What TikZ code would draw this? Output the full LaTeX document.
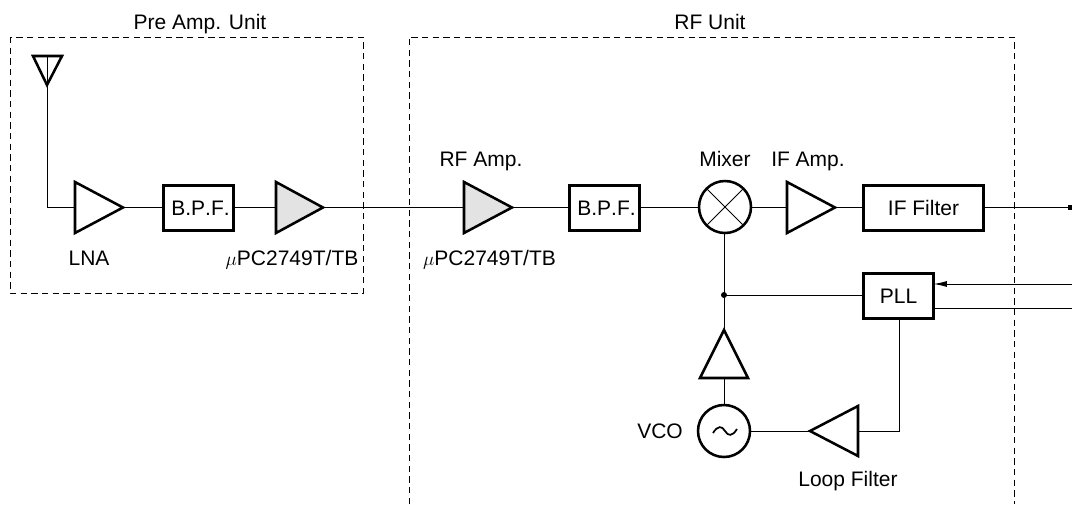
\documentclass[tikz,border=0pt]{standalone}
\usepackage{fontspec}
\setmainfont[Kerning=Off]{Liberation Sans}
\usetikzlibrary{arrows.meta,calc}
\definecolor{ampgray}{HTML}{E3E3E3}
\tikzset{
  x=0.75pt,y=-0.75pt,
  lbl/.style={inner sep=0pt,anchor=base,font=\fontsize{15.75pt}{18pt}\selectfont},
  blockbox/.style={draw,line width=1.9pt,fill=white,inner sep=0pt,outer sep=0pt,minimum height=33.75pt,font=\fontsize{15.75pt}{18pt}\selectfont},
  tri/.style={draw,line width=1.9pt,line join=miter,fill=white},
  grayfill/.style={fill=ampgray},
  wire/.style={line width=0.75pt},
  unit/.style={line width=0.7pt,dash pattern=on 4.8pt off 3.2pt},
  circ/.style={circle,draw,line width=1.9pt,fill=white,minimum size=39pt,inner sep=0pt,outer sep=0pt}
}
\newcommand{\uPC}{$\mu$PC2749T/TB}
\begin{document}
\begin{tikzpicture}
\useasboundingbox (0,0) rectangle (1072,504);
% unit outlines
\draw[unit] (10,37) rectangle (363,293);
\draw[unit] (409,504) -- (409,37) -- (1014,37) -- (1014,504);
% coordinates
\coordinate (ant) at (47,56);
\coordinate (corner) at (47,207);
\coordinate (lnaIn) at (75,207);
\coordinate (lnaOut) at (123,207.5);
\coordinate (amp1In) at (276,207);
\coordinate (amp1Out) at (323,207.5);
\coordinate (amp2In) at (464,207);
\coordinate (amp2Out) at (512,207.5);
\coordinate (ifIn) at (787,207);
\coordinate (ifOut) at (835,207.5);
\coordinate (bufTip) at (724,330);
\coordinate (bufBase) at (724,378);
\coordinate (lfTip) at (810,431);
\coordinate (lfBase) at (858,431);
\coordinate (junction) at (724,295);
\coordinate (ifEnd) at (1072,207);
\coordinate (pllInEnd) at (1072,284);
\coordinate (pllOutEnd) at (1072,308);
% blocks
\node[blockbox,minimum width=52.5pt] (bpf1) at (198.5,208) {\hspace{3pt}B.P.F.};
\node[blockbox,minimum width=52.5pt] (bpf2) at (604.5,208) {\hspace{3pt}B.P.F.};
\node[blockbox,minimum width=90pt] (iff) at (923.5,208) {IF Filter};
\node[blockbox,minimum width=52.5pt] (pll) at (898.5,296) {PLL};
\node[circ] (mix) at (725,207) {};
\node[circ] (vco) at (724,431) {};
% wires
\draw[wire] (47,70) -- (corner) -- (lnaIn);
\draw[wire] (lnaOut |- corner) -- (bpf1.west |- corner);
\draw[wire] (bpf1.east |- corner) -- (amp1In);
\draw[wire] (amp1Out |- corner) -- (amp2In);
\draw[wire] (amp2Out |- corner) -- (bpf2.west |- corner);
\draw[wire] (bpf2.east |- corner) -- (mix.west |- corner);
\draw[wire] (mix.east |- corner) -- (ifIn);
\draw[wire] (ifOut |- corner) -- (iff.west |- corner);
\draw[wire] (iff.east |- ifEnd) -- (ifEnd);
\fill (1068,204.5) rectangle (1072,209.5);
\draw[wire] (mix.south -| junction) -- (bufTip);
\draw[wire] (junction) -- (junction -| pll.west);
\fill (junction) circle (3);
\draw[wire] (bufBase) -- (vco.north);
\draw[wire,-{Latex[length=10pt,width=4.5pt]}] (pllInEnd) -- (pllInEnd -| pll.east);
\draw[wire] (pll.east |- pllOutEnd) -- (pllOutEnd);
\draw[wire] (vco.east) -- (lfTip);
\draw[wire] (lfBase) -- (899,431) -- (899,318);
% triangles
\draw[tri] (33,56) -- (62,56) -- (47,85) -- cycle;
\draw[wire] (47,56) -- (47,85);
\draw[tri] (75,182) -- (75,233) -- (lnaOut) -- cycle;
\draw[tri,grayfill] (276,182) -- (276,233) -- (amp1Out) -- cycle;
\draw[tri,grayfill] (464,182) -- (464,233) -- (amp2Out) -- cycle;
\draw[tri] (787,182) -- (787,233) -- (ifOut) -- cycle;
\draw[tri] (bufTip) -- (748,378) -- (700,378) -- cycle;
\draw[tri] (lfTip) -- (858,406) -- (858,456) -- cycle;
% mixer cross
\draw[line width=0.6pt] (mix.45) -- (mix.225) (mix.135) -- (mix.315);
% sine
\draw[line width=1.3pt] (713,433) .. controls (718,425) and (722,426) .. (725,431) .. controls (728,436) and (732,437) .. (737,429);
% labels
\node[lbl] (t1) at (200,29) {Pre Amp. Unit};
\node[lbl] (t2) at (710,29) {RF Unit};
\node[lbl] (t3) at (89,265.5) {LNA};
\node[lbl] (t4) at (292,265) {\uPC};
\node[lbl] (t5) at (489.5,265) {\uPC};
\node[lbl] (t6) at (481,166) {RF Amp.};
\node[lbl] (t7) at (725,166) {Mixer};
\node[lbl] (t8) at (808,166) {IF Amp.};
\node[lbl] (t9) at (660,438) {VCO};
\node[lbl] (t10) at (848,486) {Loop Filter};
\end{tikzpicture}
\end{document}
